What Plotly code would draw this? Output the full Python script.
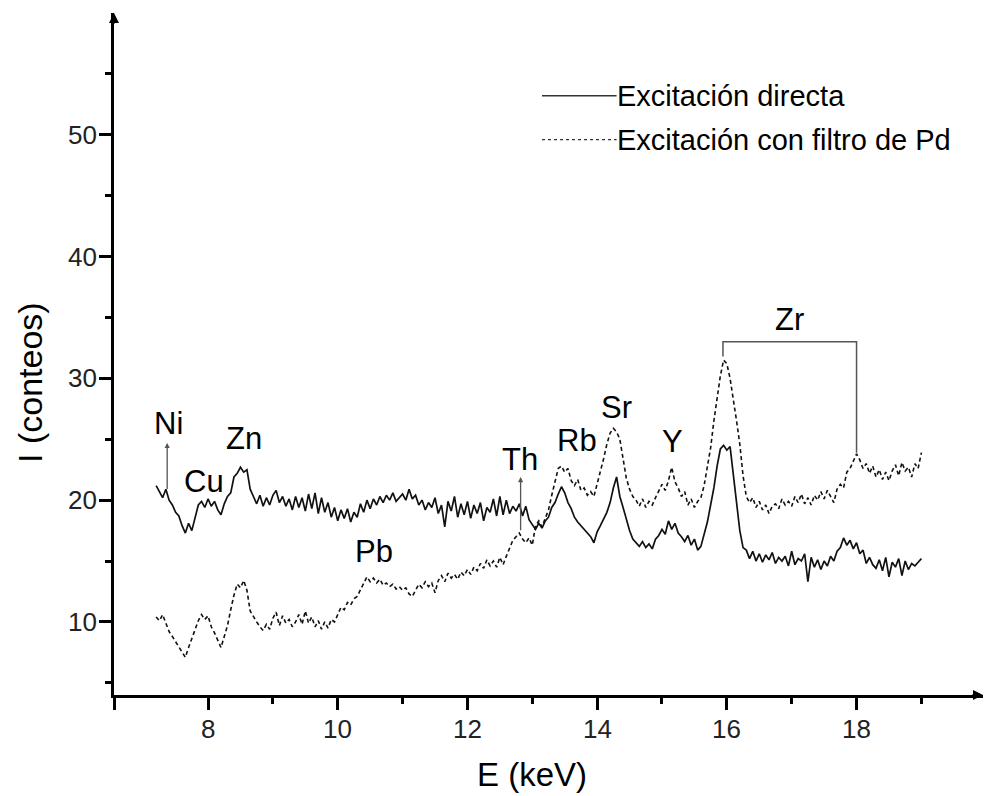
import plotly.graph_objects as go

# ---------------- data ----------------
E_START = 7.20
E_STEP = 0.05  # keV per channel

directa = [
    21.2, 20.7, 20.2, 20.9, 20.0, 19.6, 19.0, 18.7, 17.9, 17.3,
    18.1, 17.5, 18.5, 19.6, 19.9, 19.4, 20.1, 19.5, 19.9, 19.2,
    18.8, 19.7, 20.3, 20.6, 21.9, 22.2, 22.7, 22.3, 22.5, 20.9,
    20.3, 19.7, 20.4, 19.5, 20.2, 19.6, 20.4, 20.8, 19.8, 20.3,
    19.5, 20.1, 19.2, 20.3, 19.4, 20.2, 19.1, 20.5, 19.3, 20.6,
    18.9, 20.2, 19.0, 19.8, 18.6, 19.4, 18.3, 19.2, 18.5, 19.3,
    18.2, 19.0, 18.6, 19.7, 19.0, 20.0, 19.3, 20.1, 19.6, 20.3,
    19.8, 20.4, 20.0, 20.6, 19.9, 20.2, 20.5, 20.0, 20.9, 20.1,
    20.4, 19.6, 20.0, 19.2, 19.8, 19.4, 20.2, 18.9, 19.6, 17.8,
    19.9, 19.1, 20.3, 18.6, 19.7, 18.8, 19.9, 18.5, 19.6, 18.9,
    19.8, 18.3, 19.4, 19.0, 20.1, 18.7, 20.3, 18.8, 20.0, 18.9,
    19.5, 19.1, 19.7, 18.7, 19.5, 18.4, 18.0, 17.6, 18.1, 17.7,
    18.3, 18.6, 19.4, 19.8, 20.5, 21.1, 20.6, 19.8, 19.3, 18.6,
    18.2, 17.9, 17.6, 17.3, 17.0, 16.5, 17.4, 17.9, 18.4, 19.0,
    19.8, 21.0, 21.9, 20.3, 19.4, 18.4, 17.5, 16.8, 16.5, 16.2,
    16.6, 16.1, 16.4, 16.0, 16.8, 17.1, 17.6, 17.2, 18.3, 17.6,
    18.1, 17.3, 17.0, 16.6, 17.1, 16.3, 16.8, 15.9, 16.2, 17.2,
    18.2, 19.6, 21.0, 22.8, 24.2, 24.5, 24.1, 24.4, 22.0, 19.6,
    17.5, 16.1, 15.9, 15.2, 15.8, 15.0, 15.6, 14.9, 15.5, 15.1,
    15.7, 14.8, 15.3, 15.0, 15.4, 14.6, 15.8, 14.7, 15.2, 15.0,
    15.6, 13.3, 15.3, 14.5, 15.1, 14.3, 15.0, 14.6, 15.4, 15.0,
    15.8, 16.1, 16.9, 16.3, 16.7, 16.0, 16.5, 15.6, 15.9, 14.8,
    15.3, 14.7, 14.4, 15.1, 14.2, 15.3, 13.7, 14.9, 14.5, 15.2,
    13.8, 15.0, 14.3, 14.8, 14.6, 14.9, 15.2,
]

filtro_pd = [
    10.4, 10.1, 10.6, 9.9, 9.2, 8.8, 8.4, 8.0, 7.6, 7.1,
    7.9, 8.6, 9.4, 10.1, 10.6, 10.2, 10.5, 9.6, 9.1, 8.5,
    7.9, 8.8, 9.7, 11.0, 12.2, 13.1, 12.8, 13.4, 12.6, 10.9,
    10.4, 10.0, 9.6, 9.3, 9.8, 9.4, 10.3, 10.8, 9.7, 10.5,
    9.9, 10.2, 9.6, 10.0, 10.6, 9.8, 10.9, 9.9, 10.4, 9.6,
    10.1, 9.4, 10.0, 9.5, 10.2, 10.0, 10.6, 11.2, 11.0, 11.6,
    11.4, 11.9, 12.1, 12.6, 13.1, 13.7, 13.3, 13.6, 13.2, 13.5,
    13.0, 13.2, 12.9, 13.1, 12.7, 12.9, 12.6, 12.8, 12.3, 12.1,
    12.6, 13.1, 12.8, 13.3, 12.9, 13.2, 12.4, 13.4, 13.8, 13.3,
    14.0, 13.6, 13.9, 13.5, 14.1, 13.8, 14.3, 13.9, 14.5, 14.2,
    14.8, 14.4, 15.1, 14.6, 15.0, 14.5, 15.3, 14.7, 15.4, 16.0,
    16.7, 17.0, 17.3, 16.8, 16.5, 16.9, 16.3, 17.9, 18.3, 17.8,
    18.5, 19.2, 20.4, 21.5, 22.6, 22.8, 22.3, 22.6, 21.6, 21.2,
    21.7, 20.8, 21.0, 20.4, 20.7, 20.3, 21.3, 22.4, 23.4, 24.6,
    25.5, 25.9, 25.6, 25.0, 23.3, 21.8, 20.9, 20.3, 20.0, 19.5,
    20.1, 19.4, 19.9, 19.6, 20.2, 20.7, 21.3, 20.8, 21.6, 22.7,
    21.5, 21.0, 20.3, 20.7, 19.6, 20.1, 19.4, 19.9, 20.2, 21.2,
    22.6, 24.3, 26.5, 28.3, 30.2, 31.5, 31.2, 30.0, 28.4, 26.5,
    24.6, 22.0, 20.3, 19.8, 20.2, 19.4, 19.9, 19.2, 19.6, 18.9,
    19.5, 19.7, 19.3, 20.1, 19.6, 19.9, 19.5, 20.3, 19.8, 20.5,
    19.7, 20.2, 19.6, 20.4, 20.0, 20.7, 20.1, 20.8, 20.3, 19.8,
    20.9, 21.3, 21.0, 22.3, 22.6, 23.2, 23.8, 23.3, 22.6, 23.0,
    22.2, 22.8, 21.9, 22.5, 21.7, 22.3, 21.6, 22.4, 22.9, 22.0,
    23.1, 22.4, 22.7, 21.9, 23.0, 22.6, 23.9,
]

energia_directa = [round(E_START + E_STEP * i, 2) for i in range(len(directa))]
energia_filtro = [round(E_START + E_STEP * i, 2) for i in range(len(filtro_pd))]

series_names = ["Excitación directa", "Excitación con filtro de Pd"]

x_ticks = [8, 10, 12, 14, 16, 18]
x_minor = [9, 11, 13, 15, 17, 19]
y_ticks = [10, 20, 30, 40, 50]
y_minor = [5, 15, 25, 35, 45, 55]

peak_labels = ["Ni", "Cu", "Zn", "Pb", "Th", "Rb", "Sr", "Y", "Zr"]
peak_label_x = [7.39, 7.94, 8.55, 10.56, 12.81, 13.69, 14.30, 15.16, 16.97]
peak_label_y = [26.3, 21.5, 25.1, 15.8, 23.3, 24.9, 27.6, 24.8, 34.8]

# marker arrows (Ni, Th): energy, from intensity, to intensity
arrow_x = [7.37, 12.82]
arrow_y0 = [20.8, 17.4]
arrow_y1 = [24.7, 21.9]

# Zr bracket (K-alpha, K-beta)
zr_x = [15.94, 18.0]
zr_y_low = [31.8, 23.9]
zr_y_top = 33.0

X_RANGE = [6.55, 19.95]
Y_RANGE = [4, 60]

FONT = "Liberation Sans, Arial, sans-serif"
INK = "#111111"

# layout geometry (pixels)
W, H = 984, 796
ML, MR, MT, MB = 114, 1, 13, 101
PW, PH = W - ML - MR, H - MT - MB

# ---------------- figure ----------------
fig = go.Figure()

fig.add_trace(go.Scatter(
    x=energia_directa, y=directa, mode="lines", name=series_names[0],
    line=dict(color=INK, width=1.7), showlegend=False,
))
fig.add_trace(go.Scatter(
    x=energia_filtro, y=filtro_pd, mode="lines", name=series_names[1],
    line=dict(color=INK, width=1.6, dash="4px,3px"), showlegend=False,
))

annotations = []
for t, x, y in zip(peak_labels, peak_label_x, peak_label_y):
    annotations.append(dict(x=x, y=y, xref="x", yref="y", text=t, showarrow=False,
                            font=dict(family=FONT, size=31, color="#000"),
                            xanchor="center", yanchor="middle"))

for x, y0, y1 in zip(arrow_x, arrow_y0, arrow_y1):
    annotations.append(dict(x=x, y=y1, ax=x, ay=y0, xref="x", yref="y",
                            axref="x", ayref="y", text="", showarrow=True,
                            arrowhead=2, arrowsize=0.8, arrowwidth=1.3,
                            arrowcolor="#555555"))

# tick labels (placed explicitly)
for v in x_ticks:
    annotations.append(dict(x=v, y=-34 / PH, xref="x", yref="paper", text=str(v),
                            showarrow=False, font=dict(family=FONT, size=26, color="#222"),
                            xanchor="center", yanchor="middle"))
for v in y_ticks:
    annotations.append(dict(x=-15 / PW, y=v, xref="paper", yref="y", text=str(v),
                            showarrow=False, font=dict(family=FONT, size=26, color="#222"),
                            xanchor="right", yanchor="middle"))

# axis arrows
annotations.append(dict(x=X_RANGE[1], y=Y_RANGE[0], xref="x", yref="y", ax=-12, ay=0,
                        text="", showarrow=True, arrowhead=2, arrowsize=1.0,
                        arrowwidth=2, arrowcolor="#000"))
annotations.append(dict(x=X_RANGE[0], y=Y_RANGE[1], xref="x", yref="y", ax=0, ay=12,
                        text="", showarrow=True, arrowhead=2, arrowsize=1.0,
                        arrowwidth=2, arrowcolor="#000"))

# axis titles
annotations.append(dict(x=13.0, y=-100 / PH, xref="x", yref="paper", text="E (keV)",
                        showarrow=False, font=dict(family=FONT, size=33, color="#000"),
                        xanchor="center", yanchor="bottom"))
annotations.append(dict(x=-84 / PW, y=0.4575, xref="paper", yref="paper", text="I (conteos)",
                        textangle=-90, showarrow=False,
                        font=dict(family=FONT, size=34, color="#000"),
                        xanchor="center", yanchor="middle"))

# legend (drawn manually)
leg_x0, leg_x1, leg_tx = 13.15, 14.30, 14.28
leg_y = [53.2, 49.6]
shapes = []
shapes.append(dict(type="line", x0=leg_x0, x1=leg_x1, y0=leg_y[0], y1=leg_y[0],
                   xref="x", yref="y", line=dict(color="#333", width=1.6)))
shapes.append(dict(type="line", x0=leg_x0, x1=leg_x1, y0=leg_y[1], y1=leg_y[1],
                   xref="x", yref="y", line=dict(color="#333", width=1.4, dash="3px,3px")))
for name, y in zip(series_names, leg_y):
    annotations.append(dict(x=leg_tx, y=y, xref="x", yref="y", text=name, showarrow=False,
                            font=dict(family=FONT, size=29, color="#000"),
                            xanchor="left", yanchor="middle"))

# Zr bracket
shapes.append(dict(type="path",
                   path=f"M {zr_x[0]},{zr_y_low[0]} L {zr_x[0]},{zr_y_top} "
                        f"L {zr_x[1]},{zr_y_top} L {zr_x[1]},{zr_y_low[1]}",
                   xref="x", yref="y", line=dict(color="#555555", width=1.5)))

fig.update_layout(
    width=W, height=H,
    margin=dict(l=ML, r=MR, t=MT, b=MB, autoexpand=False),
    paper_bgcolor="white", plot_bgcolor="white",
    showlegend=False,
    annotations=annotations, shapes=shapes,
    font=dict(family=FONT, color="#000"),
)

fig.update_xaxes(
    range=X_RANGE, showline=True, linecolor="#000", linewidth=2.5,
    showgrid=False, zeroline=False, automargin=False,
    tickmode="array", tickvals=[X_RANGE[0]] + x_ticks, showticklabels=False,
    ticks="outside", ticklen=12, tickwidth=2.5, tickcolor="#000",
    minor=dict(tickmode="array", tickvals=x_minor, ticks="outside", ticklen=6,
               tickwidth=2.5, tickcolor="#000", showgrid=False),
)
fig.update_yaxes(
    range=Y_RANGE, showline=True, linecolor="#000", linewidth=2.5,
    showgrid=False, zeroline=False, automargin=False,
    tickmode="array", tickvals=y_ticks, showticklabels=False,
    ticks="outside", ticklen=12, tickwidth=2.5, tickcolor="#000",
    minor=dict(tickmode="array", tickvals=y_minor, ticks="outside", ticklen=6,
               tickwidth=2.5, tickcolor="#000", showgrid=False),
)

fig.write_html(
    "out.html",
    config={"displayModeBar": False},
    post_script="document.body.style.margin='0';document.body.style.overflow='hidden';",
)
